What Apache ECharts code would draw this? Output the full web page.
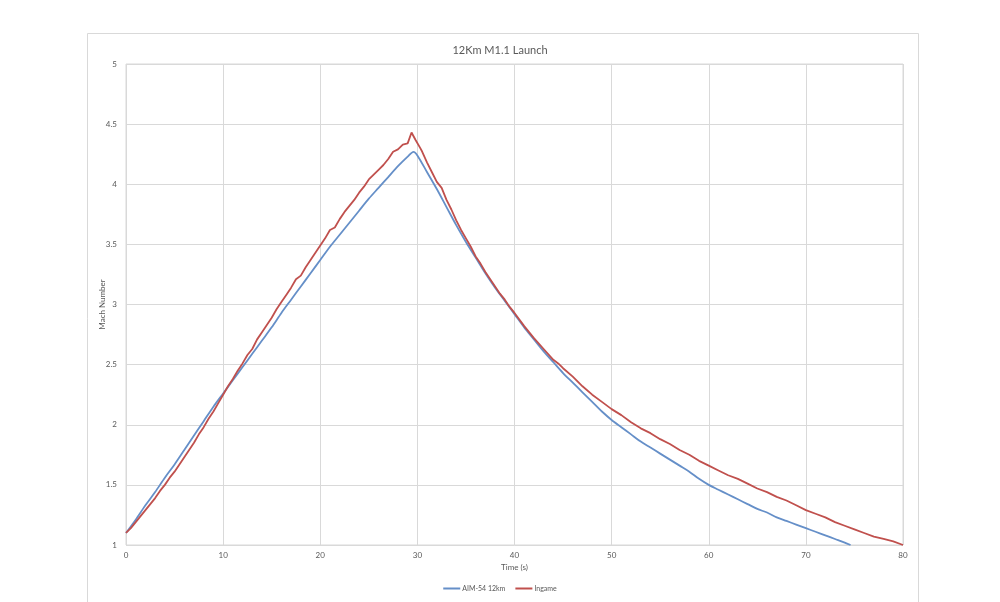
<!DOCTYPE html>
<html>
<head>
<meta charset="utf-8">
<script src="https://cdn.jsdelivr.net/npm/echarts@6/dist/echarts.min.js"></script>
<style>html,body{margin:0;padding:0;background:#fff}#c{width:1000px;height:602px}</style>
</head>
<body>
<div id="c"></div>
<script>
var xTicks = [0, 10, 20, 30, 40, 50, 60, 70, 80];
var yTicks = [1, 1.5, 2, 2.5, 3, 3.5, 4, 4.5, 5];

var blueTime = [0,1,2,3,4,5,6,7,8,9,10,11,12,13,14,15,16,17,18,19,20,21,22,23,24,25,26,27,28,29,29.6,
  30,31,32,33,34,35,36,37,38,39,40,41,42,43,44,45,46,47,48,49,50,51,52,53,54,55,56,57,58,59,60,
  61,62,63,64,65,66,67,68,69,70,71,72,73,74,74.6];
var blueMach = [1.10,1.21,1.33,1.44,1.56,1.67,1.79,1.91,2.03,2.15,2.26,2.37,2.48,2.59,2.70,2.81,2.93,3.04,3.15,3.26,3.37,3.48,3.58,3.68,3.78,3.88,3.97,4.06,4.15,4.23,4.27,
  4.24,4.10,3.96,3.81,3.66,3.52,3.39,3.26,3.14,3.03,2.92,2.81,2.71,2.61,2.52,2.43,2.35,2.27,2.19,2.11,2.04,1.98,1.92,1.86,1.81,1.76,1.71,1.66,1.61,1.55,1.50,
  1.46,1.42,1.38,1.34,1.30,1.27,1.23,1.20,1.17,1.14,1.11,1.08,1.05,1.02,1.00];

var redTime = [0,0.5,1,1.5,2,2.5,3,3.5,4,4.5,5,5.5,6,6.5,7,7.5,8,8.5,9,9.5,10,10.5,11,11.5,12,12.5,13,13.5,14,14.5,
  15,15.5,16,16.5,17,17.5,18,18.5,19,19.5,20,20.5,21,21.5,22,22.5,23,23.5,24,24.5,25,25.5,26,26.5,27,27.5,28,28.5,29,29.4,29.8,30.3,
  30.5,31,31.5,32,32.5,33,33.5,34,34.5,35,35.5,36,36.5,37,37.5,38,38.5,39,39.5,40,41,42,43,44,44.5,45,46,47,48,49,50,
  51,52,53,54,55,56,57,58,59,60,61,62,63,64,65,66,67,68,69,70,71,72,73,74,75,76,77,78,79,80];
var redMach = [1.10,1.14,1.19,1.24,1.29,1.34,1.39,1.45,1.50,1.56,1.61,1.67,1.73,1.79,1.85,1.92,1.98,2.05,2.11,2.18,2.25,2.32,2.38,2.45,2.51,2.58,2.63,2.71,2.77,2.83,
  2.89,2.96,3.02,3.08,3.14,3.21,3.24,3.31,3.37,3.43,3.49,3.55,3.62,3.64,3.71,3.77,3.82,3.87,3.93,3.98,4.04,4.08,4.12,4.16,4.21,4.27,4.29,4.33,4.34,4.43,4.37,4.30,
  4.27,4.18,4.10,4.02,3.97,3.87,3.79,3.70,3.62,3.55,3.48,3.40,3.34,3.27,3.21,3.15,3.09,3.04,2.98,2.93,2.82,2.72,2.63,2.54,2.51,2.47,2.40,2.32,2.25,2.19,2.13,
  2.08,2.02,1.97,1.93,1.88,1.84,1.79,1.75,1.70,1.66,1.62,1.58,1.55,1.51,1.47,1.44,1.40,1.37,1.33,1.29,1.26,1.23,1.19,1.16,1.13,1.10,1.07,1.05,1.03,1.00];

function pairs(t, v) { return t.map(function (x, i) { return [x, v[i]]; }); }

var chart = echarts.init(document.getElementById('c'), null, {renderer: 'canvas'});
var FONT = 'Lato, "Open Sans", sans-serif';
var TXT = '#595959';
chart.setOption({
  animation: false,
  backgroundColor: '#fff',
  graphic: [{
    type: 'rect', left: 85, top: 31, silent: true,
    shape: {width: 831, height: 575},
    style: {fill: 'none', stroke: '#d9d9d9', lineWidth: 1}
  }],
  title: {
    text: '12Km M1.1 Launch', left: 'center', top: 40,
    textStyle: {fontFamily: FONT, fontSize: 11, fontWeight: 'normal', color: TXT}
  },
  legend: {
    bottom: 5, left: 'center', itemGap: 10, itemWidth: 17, itemHeight: 2, icon: 'rect',
    textStyle: {fontFamily: FONT, fontSize: 7, color: TXT, padding: [0, 0, 0, -3]},
    data: ['AIM-54 12km', 'Ingame']
  },
  grid: {left: 126, right: 97, top: 64, bottom: 57, show: true, borderColor: '#d9d9d9', borderWidth: 1},
  xAxis: {
    type: 'value', min: 0, max: 80, interval: 10,
    name: 'Time (s)', nameLocation: 'middle', nameGap: 18,
    nameTextStyle: {fontFamily: FONT, fontSize: 8, color: TXT},
    axisLine: {show: false}, axisTick: {show: false},
    axisLabel: {fontFamily: FONT, fontSize: 8, color: TXT, margin: 6},
    splitLine: {lineStyle: {color: '#d9d9d9', width: 1}}
  },
  yAxis: {
    type: 'value', min: 1, max: 5, interval: 0.5,
    name: 'Mach Number', nameLocation: 'middle', nameGap: 20, nameMoveOverlap: false,
    nameTextStyle: {fontFamily: FONT, fontSize: 8, color: TXT},
    axisLine: {show: false}, axisTick: {show: false},
    axisLabel: {fontFamily: FONT, fontSize: 8, color: TXT, margin: 9},
    splitLine: {lineStyle: {color: '#d9d9d9', width: 1}}
  },
  series: [{
    name: 'AIM-54 12km', type: 'line', showSymbol: false, symbol: 'none', smooth: 0.3,
    color: '#658fc8', lineStyle: {width: 1.8, color: '#658fc8'},
    data: pairs(blueTime, blueMach)
  }, {
    name: 'Ingame', type: 'line', showSymbol: false, symbol: 'none', smooth: false,
    color: '#c0504d', lineStyle: {width: 1.8, color: '#c0504d'},
    data: pairs(redTime, redMach)
  }]
});
</script>
</body>
</html>
